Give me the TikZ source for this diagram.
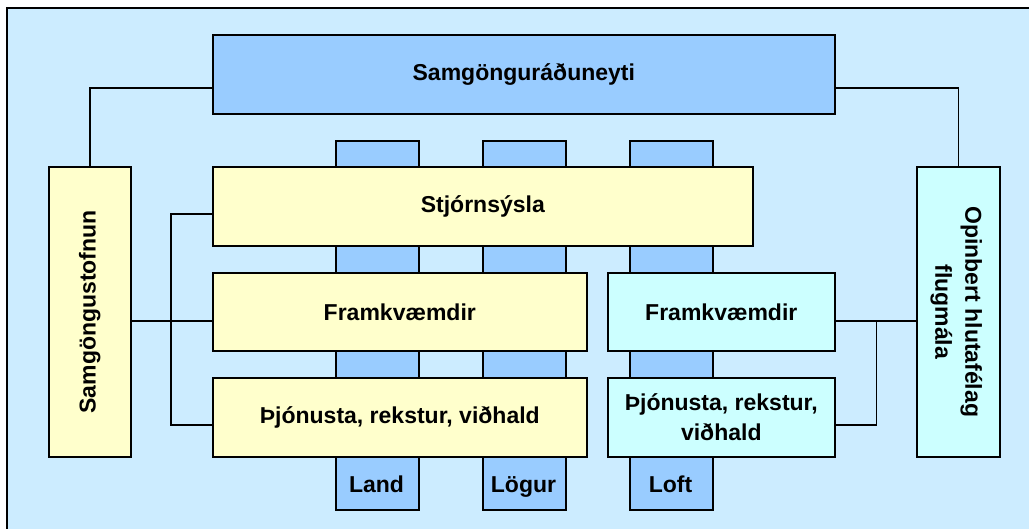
\documentclass[tikz,border=0pt]{standalone}
\usepackage{fontspec}
\setmainfont{Liberation Sans}
\definecolor{panelbg}{HTML}{CCECFF}
\definecolor{paleblue}{HTML}{99CCFF}
\definecolor{paleyellow}{HTML}{FFFFCC}
\definecolor{palecyan}{HTML}{CCFFFF}
\begin{document}
\begin{tikzpicture}[x=1pt,y=-1pt,
  box/.style={draw=black, line width=1.6pt, inner sep=0pt, anchor=north west,
    font=\bfseries\fontsize{23}{30}\selectfont, align=center},
  lbl/.style={inner sep=0pt, font=\bfseries\fontsize{23}{30}\selectfont, align=center},
  link/.style={draw=black, line width=1.6pt}]
  \useasboundingbox (0,0) rectangle (1029,529);
  \clip (0,0) rectangle (1029,529);
  % panel
  \fill[panelbg] (7,8) rectangle (1040,540);
  \draw[line width=1.6pt] (1040,8) -- (7,8) -- (7,540);
  % columns behind the rows
  \node[box, fill=paleblue, minimum width=83pt, minimum height=369pt] (land) at (335,140) {};
  \node[box, fill=paleblue, minimum width=83pt, minimum height=369pt] (logur) at (482,140) {};
  \node[box, fill=paleblue, minimum width=83pt, minimum height=369pt] (loft) at (629,140) {};
  \node[lbl, anchor=base] (landt) at (376.5,493) {Land};
  \node[lbl, anchor=base] (logurt) at (523.5,493) {Lögur};
  \node[lbl, anchor=base] (loftt) at (670.5,493) {Loft};
  % boxes
  \node[box, fill=paleblue, minimum width=622pt, minimum height=79pt] (top) at (212,34) {Samgönguráðuneyti};
  \node[box, fill=paleyellow, minimum width=82pt, minimum height=290pt] (sgs) at (48,166) {};
  \node[lbl, rotate=90] (sgst) at (sgs.center) {Samgöngustofnun};
  \node[box, fill=palecyan, minimum width=83pt, minimum height=290pt] (ohf) at (916,166) {};
  \node[lbl, rotate=-90] (ohft) at ([xshift=-2pt]ohf.center) {Opinbert hlutafélag\\flugmála};
  \node[box, fill=paleyellow, minimum width=540pt, minimum height=79pt] (stj) at (212,166) {Stjórnsýsla};
  \node[box, fill=paleyellow, minimum width=374pt, minimum height=78pt] (fy) at (212,272) {Framkvæmdir};
  \node[box, fill=paleyellow, minimum width=374pt, minimum height=79pt] (pjy) at (212,377) {Þjónusta, rekstur, viðhald};
  \node[box, fill=palecyan, minimum width=227pt, minimum height=78pt] (fc) at (607,272) {Framkvæmdir};
  \node[box, fill=palecyan, minimum width=227pt, minimum height=79pt] (pjc) at (607,377) {Þjónusta, rekstur,\\viðhald};
  % connectors
  \draw[link] ([yshift=-13.5pt]top.west) -| (sgs.north);
  \draw[link] ([yshift=-13.5pt]top.east) -| (ohf.north);
  \draw[link] ([yshift=-9pt]sgs.east) -- ([yshift=-9pt]fy.west);
  \draw[link] ([yshift=-7.5pt]stj.west) -- ++(-41,0) |- ([yshift=-7.5pt]pjy.west);
  \draw[link] ([yshift=-9pt]fc.east) -- ([yshift=-9pt]ohf.west);
  \draw[link] ([yshift=-7.5pt]pjc.east) -- ++(41,0) |- ([yshift=-9pt]fc.east);
\end{tikzpicture}
\end{document}
